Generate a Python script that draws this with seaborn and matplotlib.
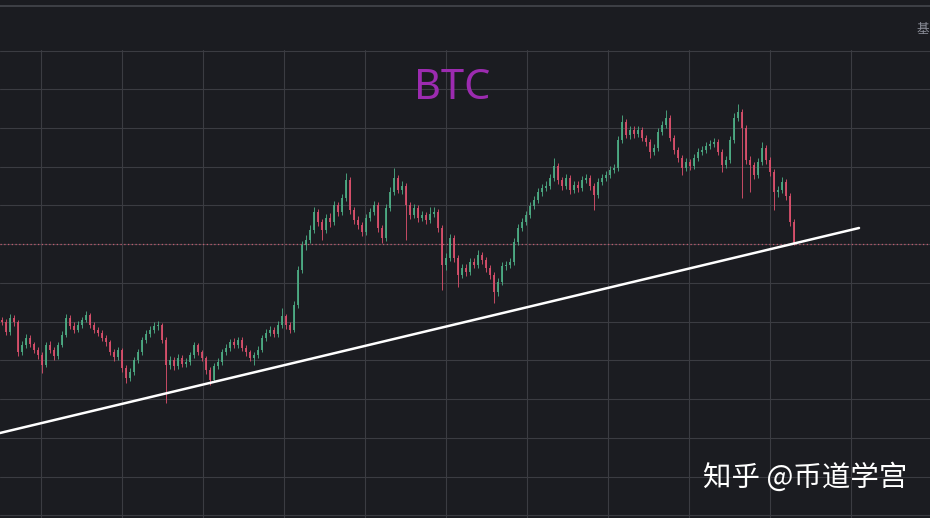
import matplotlib
matplotlib.use("Agg")
import matplotlib.pyplot as plt
from matplotlib.ticker import MultipleLocator
from matplotlib.lines import Line2D
import seaborn as sns
import numpy as np

# BTC candles (USD)
first_open = 28000
closes = [27800, 26800, 28200, 27800, 24800, 25500, 26200, 25600, 25000, 24500,
          23500, 25500, 25000, 24400, 25500, 26500, 28200, 27400, 27000, 27500,
          28000, 28500, 27500, 27000, 26700, 26200, 25800, 24800, 24300, 25000,
          23200, 22200, 22800, 24000, 24800, 26000, 26600, 27000, 27400, 27500,
          26000, 23500, 24000, 23400, 24200, 23600, 23800, 24500, 25500, 24800,
          24200, 23000, 22000, 23400, 23800, 24800, 25200, 25800, 25500, 26000,
          25200, 24800, 24200, 24500, 25000, 26200, 26700, 27000, 26600, 27500,
          28400, 27500, 27000, 29500, 33000, 35500, 36000, 37000, 38800, 37800,
          37000, 38200, 37800, 39500, 38800, 40200, 42000, 39000, 38000, 37500,
          36800, 38200, 38800, 39500, 37200, 36200, 39200, 40800, 42200, 41000,
          41400, 39500, 38500, 39200, 38200, 38500, 38000, 38600, 38800, 37200,
          33500, 34200, 36200, 34200, 32500, 33200, 32800, 33800, 33500, 34500,
          34000, 33200, 32500, 30800, 31800, 33400, 33500, 33800, 35800, 37200,
          37800, 38500, 39400, 40000, 40800, 41200, 41400, 42200, 43400, 42000,
          41400, 42200, 41000, 41500, 41200, 42000, 42200, 41400, 40500, 41800,
          42200, 42500, 43000, 43200, 46000, 47800, 46500, 47000, 46600, 47000,
          46200, 45800, 44800, 45200, 46800, 47500, 48200, 46200, 45000, 44200,
          43200, 43800, 43400, 44200, 44800, 45000, 45400, 45600, 45800, 44800,
          43500, 44000, 46000, 48200, 48800, 47200, 44000, 43500, 42500, 43800,
          45200, 44000, 42800, 40800, 41000, 41800, 40400, 37800, 35600]
highs = [28300, 28100, 28600, 28500, 28000, 25900, 26600, 26500, 25800, 25300,
         24800, 25800, 25900, 25300, 25800, 26900, 28600, 28500, 27800, 27900,
         28300, 28900, 28700, 27800, 27300, 27000, 26500, 26000, 25100, 25300,
         25200, 23500, 23200, 24300, 25100, 26300, 27000, 27400, 27800, 27900,
         27700, 26300, 24400, 24300, 24600, 24500, 24200, 24800, 25800, 25700,
         25000, 24400, 23300, 23700, 24200, 25100, 25600, 26100, 26200, 26300,
         26300, 25500, 25000, 24800, 25400, 26500, 27100, 27400, 27300, 27900,
         29200, 28600, 27800, 29900, 33400, 35900, 36500, 37500, 39300, 39100,
         38100, 38600, 38700, 39900, 39800, 40600, 42700, 42300, 39300, 38400,
         37800, 38600, 39200, 39900, 39800, 37500, 39600, 41300, 43200, 42500,
         41900, 41700, 39800, 39600, 39500, 38900, 38800, 39300, 39300, 39100,
         37500, 34700, 36600, 36500, 34500, 33600, 33600, 34200, 34200, 35000,
         34800, 34300, 33500, 32800, 32200, 33800, 33900, 34200, 36200, 37600,
         38200, 38900, 39800, 40400, 41200, 41600, 41900, 42600, 44200, 43700,
         42300, 42600, 42500, 41900, 41900, 42400, 42600, 42500, 41700, 42200,
         42600, 42900, 43400, 43600, 46400, 48500, 48100, 47400, 47400, 47400,
         47300, 46500, 46100, 45600, 47200, 47900, 49000, 48500, 46500, 45300,
         44500, 44200, 44100, 44600, 45200, 45400, 45800, 46000, 46200, 46100,
         45100, 44400, 46400, 48700, 49600, 49100, 47500, 44400, 43800, 44200,
         45800, 45500, 44300, 43100, 41400, 42300, 42100, 40700, 38100]
lows = [27500, 26500, 26500, 27400, 24400, 24500, 25200, 25300, 24700, 24100,
        22700, 23300, 24700, 24000, 24100, 25300, 26300, 27100, 26700, 26800,
        27200, 27800, 27200, 26700, 26400, 25900, 25400, 24500, 23900, 24000,
        22800, 21700, 21900, 22500, 23700, 24500, 25700, 26300, 26700, 27000,
        25700, 19700, 23100, 23000, 23100, 23300, 23300, 23500, 24200, 24500,
        23900, 22600, 21500, 21800, 23100, 23500, 24500, 24900, 25200, 25200,
        24900, 24400, 23900, 23500, 24200, 24800, 25900, 26400, 26300, 26300,
        27200, 27100, 26700, 26800, 29200, 32700, 35000, 35700, 36700, 37400,
        36000, 36700, 37300, 37500, 38400, 38500, 39900, 38600, 37600, 37100,
        36400, 36500, 37900, 38500, 36800, 35700, 35900, 38900, 40500, 40700,
        40600, 36000, 38100, 38200, 37800, 37900, 37600, 37700, 38300, 36800,
        31000, 33000, 33900, 33800, 31300, 32200, 32400, 32500, 33200, 33200,
        33600, 32800, 32100, 29700, 30400, 31500, 33000, 33200, 33500, 35500,
        36900, 37500, 38200, 39100, 39700, 40400, 40900, 41100, 41900, 41600,
        41000, 41100, 40600, 40700, 40800, 40900, 41700, 41000, 39000, 40200,
        41500, 41900, 42200, 42700, 42900, 45700, 46200, 46100, 46200, 46300,
        45900, 45400, 44200, 44500, 44900, 46500, 47200, 45900, 44600, 43800,
        42500, 42900, 43000, 43100, 43900, 44500, 44700, 45100, 45300, 44500,
        42800, 43200, 43700, 45700, 47900, 40200, 43600, 40800, 42100, 42200,
        43500, 43600, 42400, 39000, 40300, 40700, 40000, 37400, 35500]

# hand-drawn trendline anchors (candle index, price)
trend_idx = [-0.5, 214.25]
trend_price = [16700, 37200]

bg = "#1b1c21"
grid_c = "#3b3c42"
up_c = "#4dab84"
down_c = "#d9506c"

sns.set_theme(style="dark", rc={"axes.facecolor": bg, "figure.facecolor": bg,
                                "grid.color": grid_c})

opens = [first_open] + closes[:-1]
o = np.array(opens, dtype=float)
c = np.array(closes, dtype=float)
idx = np.arange(len(c))
colors = [up_c if cc >= oo else down_c for oo, cc in zip(o, c)]

fig = plt.figure(figsize=(9.3, 5.18), dpi=100)
ax = fig.add_axes([0, 0, 1, 468 / 518])
ax.set_facecolor(bg)

# wicks + bodies
ax.vlines(idx, lows, highs, colors=colors, linewidth=0.7, alpha=0.9, zorder=3)
body = np.maximum(np.abs(c - o), 60)
ax.bar(idx, body, bottom=np.minimum(o, c), width=0.6, color=colors,
       linewidth=0, alpha=0.9, zorder=3)

# last price line
ax.axhline(closes[-1], color="#c25a6e", linestyle=(0, (1, 2)), linewidth=0.9, zorder=2)

# trendline
sns.lineplot(x=trend_idx, y=trend_price, ax=ax, color="white", linewidth=1.8,
             zorder=4, estimator=None, sort=False)

ax.set_xlim(-0.5, 232)
ax.set_ylim(8200, 55000)
ax.xaxis.set_major_locator(MultipleLocator(20.25, offset=9.75))
ax.yaxis.set_major_locator(MultipleLocator(3872, offset=732))
ax.grid(True, color=grid_c, linewidth=0.8)
ax.tick_params(length=0, labelbottom=False, labelleft=False)
for s in ax.spines.values():
    s.set_visible(False)

# top separator
fig.add_artist(Line2D([0, 1], [1 - 6 / 518, 1 - 6 / 518], color="#45474d",
                      linewidth=1.2, transform=fig.transFigure))

fig.text(452 / 930, 1 - 88 / 518, "BTC", ha="center", va="center",
         fontsize=30, color="#9c2bb0", family="Noto Sans")
fig.text(703 / 930, 1 - 478 / 518, "知乎 @币道学宫", ha="left", va="center",
         fontsize=20.5, color="white", family=["Noto Sans CJK SC", "DejaVu Sans"])
fig.text(916 / 930, 1 - 30 / 518, "基", ha="left", va="center",
         fontsize=9, color="#8b8e99", family=["Noto Sans CJK SC", "DejaVu Sans"])

fig.savefig("out.png", dpi=100, facecolor=bg)
